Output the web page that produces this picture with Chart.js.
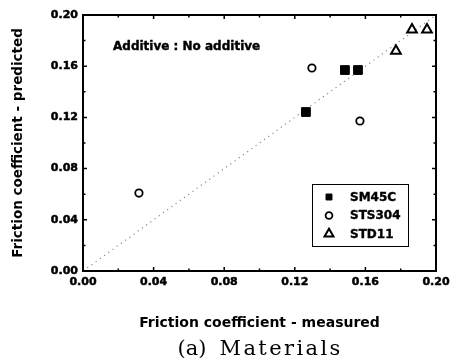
<!DOCTYPE html>
<html>
<head>
<meta charset="utf-8">
<script src="https://cdn.jsdelivr.net/npm/chart.js@4.4.1/dist/chart.umd.min.js"></script>
<style>
html, body { margin: 0; padding: 0; background: #fff; }
</style>
</head>
<body>
<canvas id="graphCanvas" width="450" height="363"></canvas>
<script>
// measured vs predicted friction coefficient, one pair of arrays per material
var sm45cMeasured  = [0.1484, 0.1558, 0.1263];
var sm45cPredicted = [0.1570, 0.1570, 0.1242];

var sts304Measured  = [0.1297, 0.1569, 0.0317];
var sts304Predicted = [0.1586, 0.1172, 0.0609];

var std11Measured  = [0.1773, 0.1864, 0.1949];
var std11Predicted = [0.1720, 0.1885, 0.1885];

var materials = ['SM45C', 'STS304', 'STD11'];
var axisTicks = [0.00, 0.04, 0.08, 0.12, 0.16, 0.20];
var idealLine = [0, 0.2];

var sansBold = 'DejaVu Sans';

function toPoints(xs, ys) {
    var pts = [];
    for (var i = 0; i < xs.length; i++) {
        pts.push({ x: xs[i], y: ys[i] });
    }
    return pts;
}

// heavy text: fill plus a thin outline
function heavyText(ctx, txt, x, y) {
    ctx.fillText(txt, x, y);
    ctx.strokeText(txt, x, y);
}

// box, inward ticks, note text, legend and caption
var framePlugin = {
    id: 'framePlugin',
    afterDraw: function (chart) {
        var ctx = chart.ctx;
        var area = chart.chartArea;
        var xs = chart.scales.x;
        var ys = chart.scales.y;
        ctx.save();

        ctx.strokeStyle = '#000';
        ctx.lineWidth = 1.5;
        ctx.beginPath();
        for (var v = 0; v <= 10; v++) {
            var val = v * 0.02;
            var len = (v % 2 == 0) ? 4 : 2.5;
            var px = xs.getPixelForValue(val);
            var py = ys.getPixelForValue(val);
            ctx.moveTo(px, area.bottom); ctx.lineTo(px, area.bottom - len);
            ctx.moveTo(px, area.top); ctx.lineTo(px, area.top + len);
            ctx.moveTo(area.left, py); ctx.lineTo(area.left + len, py);
            ctx.moveTo(area.right, py); ctx.lineTo(area.right - len, py);
        }
        ctx.stroke();

        ctx.lineWidth = 2;
        ctx.strokeRect(area.left, area.top, area.right - area.left, area.bottom - area.top);

        // note in upper left
        ctx.fillStyle = '#000';
        ctx.lineWidth = 0.4;
        ctx.font = 'bold 12px "' + sansBold + '"';
        ctx.textAlign = 'left';
        ctx.textBaseline = 'middle';
        heavyText(ctx, 'Additive : No additive', area.left + 30, area.top + 32);

        // legend box
        var bx = area.right - 124, by = area.bottom - 87, bw = 96, bh = 62;
        ctx.lineWidth = 1;
        ctx.strokeRect(bx + 0.5, by + 0.5, bw, bh);
        var sizes = [4.2, 3.4, 5.2];
        chart.data.datasets.forEach(function (ds, i) {
            if (!ds.showInLegend) return;
            var ry = by + 13 + i * 18.5;
            ctx.fillStyle = ds.backgroundColor;
            ctx.strokeStyle = ds.borderColor;
            ctx.lineWidth = ds.borderWidth;
            Chart.helpers.drawPoint(ctx, {
                pointStyle: ds.pointStyle,
                radius: sizes[i],
                borderWidth: ds.borderWidth,
                rotation: 0
            }, bx + 17, ry);
            ctx.fillStyle = '#000';
            ctx.strokeStyle = '#000';
            ctx.lineWidth = 0.4;
            ctx.font = 'bold 12px "' + sansBold + '"';
            ctx.textBaseline = 'middle';
            heavyText(ctx, ds.label, bx + 38, ry + 0.5);
        });

        // caption under the axis title
        var cx = (area.left + area.right) / 2;
        ctx.fillStyle = '#000';
        ctx.font = '21px "DejaVu Serif"';
        ctx.textBaseline = 'middle';
        ctx.textAlign = 'right';
        ctx.fillText('(a)', cx - 53, 350);
        ctx.textAlign = 'left';
        ctx.letterSpacing = '2.4px';
        ctx.fillText('Materials', cx - 40, 350);
        ctx.restore();
    }
};

var chartdata = {
    datasets: [
        {
            label: materials[0],
            showInLegend: true,
            data: toPoints(sm45cMeasured, sm45cPredicted),
            pointStyle: 'rect',
            pointRadius: 6.2,
            backgroundColor: '#000',
            borderColor: '#000',
            borderWidth: 1
        },
        {
            label: materials[1],
            showInLegend: true,
            data: toPoints(sts304Measured, sts304Predicted),
            pointStyle: 'circle',
            pointRadius: 3.7,
            backgroundColor: '#fff',
            borderColor: '#000',
            borderWidth: 1.8
        },
        {
            label: materials[2],
            showInLegend: true,
            data: toPoints(std11Measured, std11Predicted),
            pointStyle: 'triangle',
            pointRadius: 5.6,
            backgroundColor: '#fff',
            borderColor: '#000',
            borderWidth: 2
        },
        {
            type: 'line',
            label: 'ideal',
            showInLegend: false,
            data: toPoints(idealLine, idealLine),
            borderColor: '#8a8a8a',
            borderWidth: 1.2,
            borderDash: [1.2, 4],
            pointRadius: 0,
            fill: false
        }
    ]
};

var tickFont = { family: sansBold, size: 11, weight: 'bold' };

var graph = new Chart(document.getElementById('graphCanvas'), {
    type: 'scatter',
    data: chartdata,
    options: {
        responsive: false,
        animation: false,
        devicePixelRatio: 1,
        layout: { padding: { top: 15, right: 14, left: 0, bottom: 0 } },
        plugins: {
            legend: { display: false },
            tooltip: { enabled: false },
            title: { display: false }
        },
        scales: {
            x: {
                type: 'linear',
                min: 0,
                max: 0.2,
                afterFit: function (scale) {
                    scale.height = 92;
                    scale.paddingLeft = 0;
                    scale.paddingRight = 0;
                },
                afterBuildTicks: function (scale) {
                    scale.ticks = axisTicks.map(function (v) { return { value: v }; });
                },
                grid: { display: false, drawTicks: false },
                border: { display: false },
                ticks: {
                    color: '#000',
                    font: tickFont,
                    textStrokeColor: '#000',
                    textStrokeWidth: 0.5,
                    padding: 5,
                    maxRotation: 0,
                    callback: function (v) { return v.toFixed(2); }
                },
                title: {
                    display: true,
                    text: 'Friction coefficient - measured',
                    color: '#000',
                    font: { family: sansBold, size: 14, weight: 'bold', lineHeight: 1.2 },
                    padding: { top: 0, bottom: 31.6 }
                }
            },
            y: {
                type: 'linear',
                min: 0,
                max: 0.2,
                afterFit: function (scale) {
                    scale.width = 83;
                    scale.paddingTop = 0;
                    scale.paddingBottom = 0;
                },
                afterBuildTicks: function (scale) {
                    scale.ticks = axisTicks.map(function (v) { return { value: v }; });
                },
                grid: { display: false, drawTicks: false },
                border: { display: false },
                ticks: {
                    color: '#000',
                    font: tickFont,
                    textStrokeColor: '#000',
                    textStrokeWidth: 0.5,
                    padding: 5,
                    callback: function (v) { return v.toFixed(2); }
                },
                title: {
                    display: true,
                    text: 'Friction coefficient - predicted',
                    color: '#000',
                    font: { family: sansBold, size: 13.5, weight: 'bold', lineHeight: 1.2 },
                    padding: { top: 10, bottom: 0 }
                }
            }
        }
    },
    plugins: [framePlugin]
});
</script>
</body>
</html>
